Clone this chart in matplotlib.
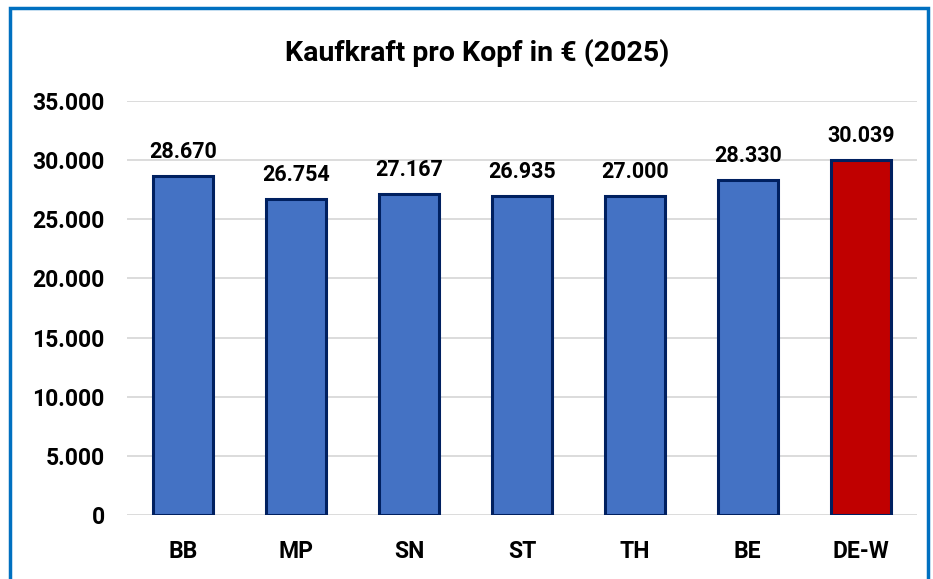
import matplotlib.pyplot as plt
from matplotlib.patches import Rectangle

# Kaufkraft pro Kopf 2025
regions = ["BB", "MP", "SN", "ST", "TH", "BE", "DE-W"]
values = [28670, 26754, 27167, 26935, 27000, 28330, 30039]
bar_colors = ["#4472C4"] * 6 + ["#C00000"]
yticks = [0, 5000, 10000, 15000, 20000, 25000, 30000, 35000]

plt.rcParams['font.family'] = ['Roboto', 'DejaVu Sans']


def fmt(v):
    return f"{v:,}".replace(",", ".")


fig = plt.figure(figsize=(9.33, 5.79), dpi=100)
ax = fig.add_axes([0.136, 0.1105, 0.847, 0.715])

x = range(len(regions))
ax.bar(x, values, width=0.53, color=bar_colors, edgecolor="#002060", linewidth=2.2, zorder=3)

for i, v in enumerate(values):
    ax.text(i, v + 1100, fmt(v), ha="center", va="bottom", fontsize=15.5, fontweight="bold")

ax.set_xlim(-0.5, len(regions) - 0.5)
ax.set_ylim(0, 35000)
ax.set_yticks(yticks)
ax.set_yticklabels([fmt(t) for t in yticks], fontsize=16.5, fontweight="bold")
ax.set_xticks(list(x))
ax.set_xticklabels(regions, fontsize=16.5, fontweight="bold")
ax.tick_params(length=0)
ax.tick_params(axis="x", pad=18)
ax.tick_params(axis="y", pad=16)

ax.yaxis.grid(True, color="#D9D9D9", linewidth=1.3, zorder=0)
for s in ax.spines.values():
    s.set_visible(False)

fig.text(0.511, 0.908, "Kaufkraft pro Kopf in € (2025)", ha="center", va="center",
         fontsize=20.5, fontweight="bold")

# chart border
fig.patches.append(Rectangle((10 / 933, -0.05), 918 / 933, 1.05 - 8 / 579,
                             transform=fig.transFigure, fill=False,
                             edgecolor="#0070C0", linewidth=2.5))

fig.savefig("out.png", dpi=100)
